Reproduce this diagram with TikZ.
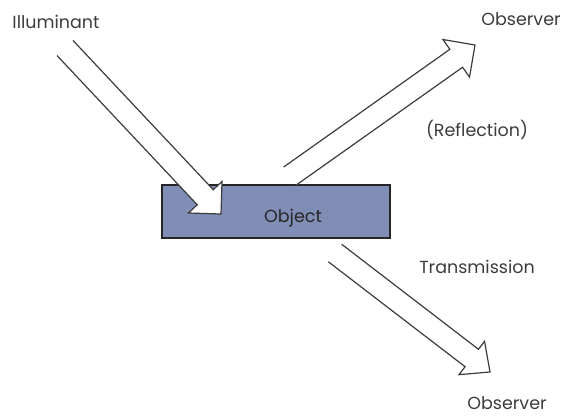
\documentclass[tikz,border=0pt]{standalone}
\usepackage{fontspec}
\setmainfont{Poppins}
\usepackage{tikz}
\usetikzlibrary{calc,positioning}

\definecolor{objfill}{RGB}{128,142,182}
\definecolor{ink}{RGB}{60,60,60}

\tikzstyle{lbl} = [text=ink,font=\fontsize{17.5}{20}\selectfont,inner sep=0pt]
\tikzstyle{objbox} = [draw=black!85,line width=2pt,fill=objfill,minimum width=228pt,minimum height=53pt,inner sep=0pt]
\tikzstyle{beam} = [draw=ink,line width=1.2pt,fill=white,line join=miter]

% wide hollow arrow from #2 to #3, #1 = half width of the head
\newcommand{\hollowarrow}[3][20]{%
  \path ($(#3)!23pt!(#2)$) coordinate (hb);
  \draw[beam] ($(#2)!11pt!90:(#3)$) -- ($(hb)!11pt!90:(#3)$)
    -- ($(hb)!#1pt!90:(#3)$) -- (#3) -- ($(hb)!#1pt!-90:(#3)$)
    -- ($(hb)!11pt!-90:(#3)$) -- ($(#2)!11pt!-90:(#3)$);
}

\begin{document}
\begin{tikzpicture}[x=1pt,y=-1pt]
\useasboundingbox (0,0) rectangle (567,417);

% the sample
\node[objbox] (obj) at (276,211.5) {};

% labels
\node[lbl] (illum) at (56,22) {Illuminant};
\node[lbl] (obsup) at (521,19) {Observer};
\node[lbl] (refl) at (477,130) {(Reflection)};
\node[lbl] (trans) at (477,267) {Transmission};
\node[lbl] (obsdown) at (507,403) {Observer};

% light paths
\coordinate (inA) at (65,48);
\coordinate (inB) at (221,214);
\coordinate (reA) at (290,176);
\coordinate (reB) at (475,45);
\coordinate (trA) at (335,253);
\coordinate (trB) at (490,372);

\hollowarrow[23]{inA}{inB}
\hollowarrow[23]{reA}{reB}
\hollowarrow[21]{trA}{trB}

\node[lbl,text=black!85] (objtext) at (293,218) {Object};
\end{tikzpicture}
\end{document}
